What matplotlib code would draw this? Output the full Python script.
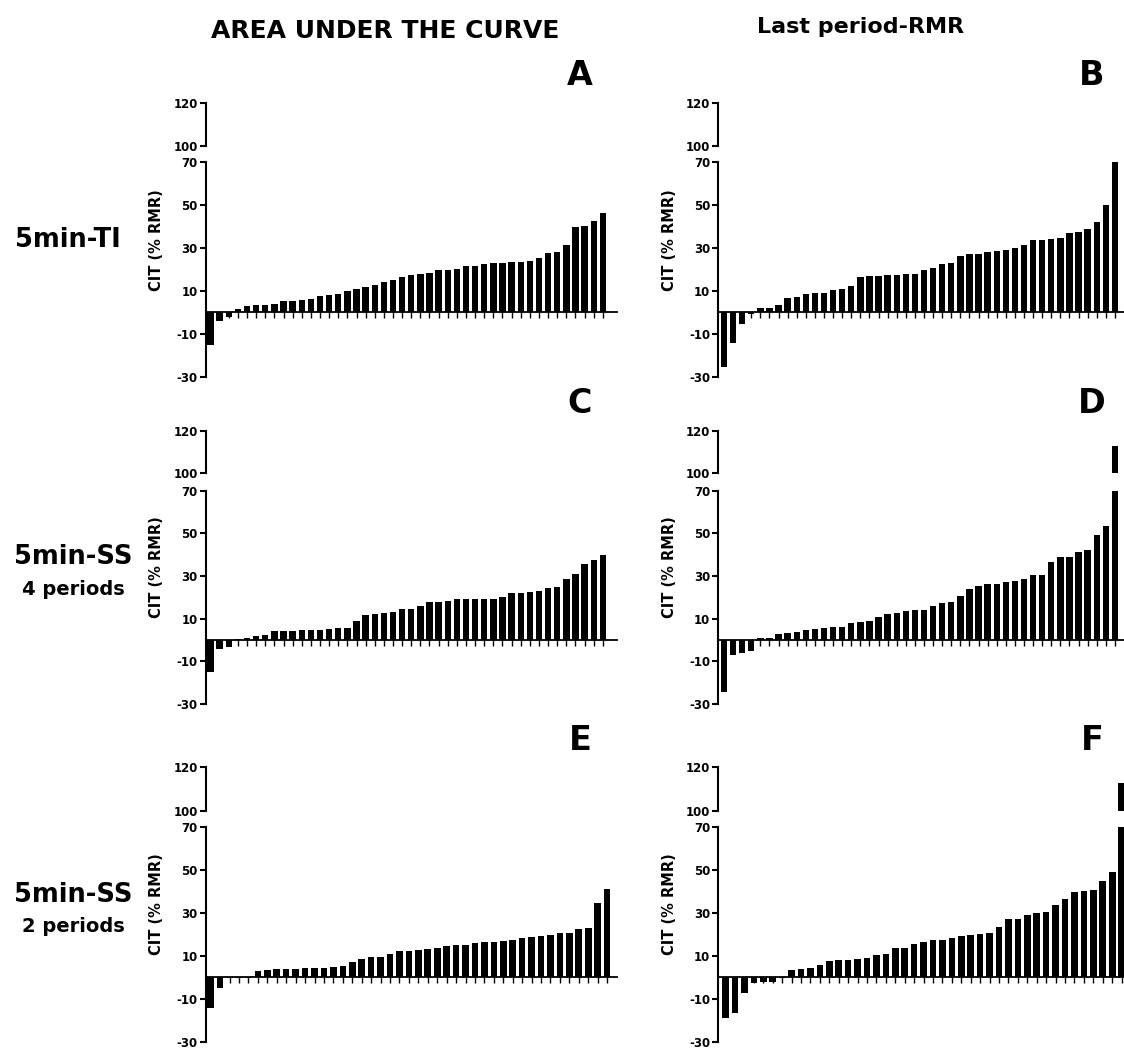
import matplotlib
matplotlib.use("Agg")
import matplotlib.pyplot as plt
import numpy as np

plt.rcParams['font.family'] = ['DejaVu Sans']
plt.rcParams['font.weight'] = 'bold'
plt.rcParams['axes.unicode_minus'] = False

# CIT (% RMR), sorted per subject
auc_ti = [-15, -3.9, -2, 1.5, 3, 3.4, 3.4, 3.9, 5.3, 5.3, 5.8, 6.2, 7.6, 8.1, 8.6,
          10, 10.9, 11.8, 12.8, 14.2, 15.1, 16.5, 17.4, 17.9, 18.4, 19.8, 19.8, 20.2,
          21.6, 21.6, 22.6, 23, 23, 23.5, 23.5, 24, 25.3, 27.7, 28.1, 31.4, 39.8, 40.3,
          42.8, 46.3]
last_ti = [-25.3, -14.2, -5.3, -0.6, 2, 2, 3.4, 6.7, 7.2, 8.6, 9, 9, 10.4, 10.9, 12.3,
           16.5, 17, 17, 17.4, 17.4, 17.9, 17.9, 19.8, 20.7, 22.6, 23, 26.3, 27.2, 27.2,
           28.1, 28.6, 29.1, 30, 31.4, 33.7, 33.7, 34.2, 34.7, 37, 37.5, 38.9, 42.1,
           50.1, 72]
auc_ss4 = [-14.8, -4, -3.1, 0.5, 0.9, 1.9, 2.3, 4.2, 4.2, 4.2, 4.7, 4.7, 4.7, 5.2, 5.6,
           5.6, 8.9, 11.7, 12.2, 12.7, 13.1, 14.5, 14.5, 15.9, 17.8, 17.8, 18.3, 19.2,
           19.2, 19.2, 19.2, 19.2, 20.2, 22, 22, 22.5, 23, 24.4, 24.8, 28.6, 30.9, 35.6,
           37.5, 39.8]
last_ss4 = [-24.2, -7, -5.9, -5, 0.8, 0.8, 2.8, 3.3, 3.75, 4.7, 5.2, 5.6, 6.1, 6.1, 8,
            8.4, 8.9, 10.8, 12.2, 12.7, 13.6, 14.1, 14.1, 15.9, 17.3, 17.8, 20.6, 23.9,
            25.3, 26.25, 26.25, 27.2, 27.7, 28.6, 30.5, 30.5, 36.6, 38.9, 38.9, 41.25,
            42.2, 49.2, 53.4, 112.8]
auc_ss2 = [-14.2, -4.9, -0.6, -0.5, -0.2, 2.9, 3.3, 3.8, 3.8, 3.8, 4.3, 4.3, 4.3, 4.7,
           5.2, 7.1, 8.5, 9.4, 9.4, 10.8, 12.2, 12.2, 12.6, 13.1, 13.6, 14.5, 15, 15,
           15.9, 16.4, 16.4, 16.9, 17.3, 18.2, 18.7, 19.2, 19.6, 20.5, 20.5, 22.4, 22.9,
           34.6, 41.1]
last_ss2 = [-18.8, -16.5, -7.2, -2.6, -2.1, -2.1, -0.2, 3.3, 3.8, 4.3, 5.7, 7.5, 8, 8,
            8.4, 8.9, 10.3, 10.8, 13.6, 13.6, 15.4, 16.4, 17.3, 17.3, 18.2, 19.1, 19.6,
            20.1, 20.5, 23.3, 27, 27, 28.9, 29.8, 30.3, 33.6, 36.4, 39.6, 40.1, 40.5,
            44.7, 48.9, 113]

col_titles = ["AREA UNDER THE CURVE", "Last period-RMR"]
row_titles = ["5min-TI", "5min-SS", "5min-SS"]
row_subtitles = ["", "4 periods", "2 periods"]
letters = ["A", "B", "C", "D", "E", "F"]
low_ticks = [-30, -10, 10, 30, 50, 70]
high_ticks = [100, 120]

W, H = 1124, 1050
fig = plt.figure(figsize=(W / 100, H / 100), dpi=100)


def px_axes(x0, y_top, w, h):
    return fig.add_axes([x0 / W, 1 - (y_top + h) / H, w / W, h / H])


# pixel layout: (upper top, upper bottom, lower top, lower bottom) per row
rows_px = [(102.8, 145.7, 162.3, 376.7),
           (430.7, 473.3, 490.7, 704.0),
           (767.3, 811.0, 826.7, 1041.7)]
cols_px = [(205.5, 411.5), (718.0, 406.0)]


def draw_panel(col, row, values, letter, pad_l, pad_r):
    ut, ub, lt, lb = rows_px[row]
    x0, w = cols_px[col]
    x = np.arange(len(values))
    xlim = (-pad_l, len(values) - 1 + pad_r)

    # lower part of the broken axis: -30..70
    low = px_axes(x0, lt, w, lb - lt)
    low.bar(x, values, width=0.7, color='black', edgecolor='black', linewidth=0)
    low.set_ylim(-30, 70)
    low.set_xlim(*xlim)
    low.set_yticks(low_ticks)
    low.set_xticks(x)
    low.set_xticklabels([])
    for s in ['top', 'right']:
        low.spines[s].set_visible(False)
    low.spines['bottom'].set_position(('data', 0))
    low.spines['bottom'].set_linewidth(1.3)
    low.spines['left'].set_linewidth(1.5)
    low.tick_params(axis='x', direction='out', length=4.5, width=1.0)
    low.tick_params(axis='y', direction='out', length=4.5, width=1.5, labelsize=8.5, pad=1)

    # upper part: 100..120
    high = px_axes(x0, ut, w, ub - ut)
    high.bar(x, values, width=0.7, color='black', edgecolor='black', linewidth=0)
    high.set_ylim(100, 120)
    high.set_xlim(*xlim)
    high.set_yticks(high_ticks)
    high.set_xticks([])
    for s in ['top', 'right', 'bottom']:
        high.spines[s].set_visible(False)
    high.spines['left'].set_linewidth(1.5)
    high.tick_params(axis='y', direction='out', length=4.5, width=1.5, labelsize=8.5, pad=1)
    high.patch.set_visible(False)

    for a in (low, high):
        for lab in a.get_yticklabels():
            lab.set_fontweight('bold')

    mid = 1 - (ut + lb) / 2 / H
    fig.text((x0 - 49) / W, mid, "CIT (% RMR)", rotation=90, ha='center', va='center',
             fontsize=10.5, fontweight='bold')
    fig.text((x0 + w - 37 if col == 0 else 1092) / W, 1 - (ut - 27) / H, letter,
             ha='center', va='center', fontsize=24, fontweight='bold')


panels = [(auc_ti, last_ti), (auc_ss4, last_ss4), (auc_ss2, last_ss2)]
pads = [((0.55, 1.55), (0.66, 1.0)),
        ((0.55, 1.55), (0.66, 1.0)),
        ((0.55, 1.05), (0.8, 0.25))]

for r in range(3):
    for c in range(2):
        draw_panel(c, r, panels[r][c], letters[r * 2 + c], *pads[r][c])

    ut, ub, lt, lb = rows_px[r]
    mid = (ut + lb) / 2
    if row_subtitles[r]:
        fig.text(73 / W, 1 - (mid - 10) / H, row_titles[r], ha='center', va='center',
                 fontsize=18.5, fontweight='bold')
        fig.text(73 / W, 1 - (mid + 22) / H, row_subtitles[r], ha='center', va='center',
                 fontsize=14, fontweight='bold')
    else:
        fig.text(67.5 / W, 1 - mid / H, row_titles[r], ha='center', va='center',
                 fontsize=18.5, fontweight='bold')

fig.text(385 / W, 1 - 31 / H, col_titles[0], ha='center', va='center',
         fontsize=18, fontweight='bold')
fig.text(861 / W, 1 - 27 / H, col_titles[1], ha='center', va='center',
         fontsize=16, fontweight='bold')

fig.savefig("out.png", dpi=100)
